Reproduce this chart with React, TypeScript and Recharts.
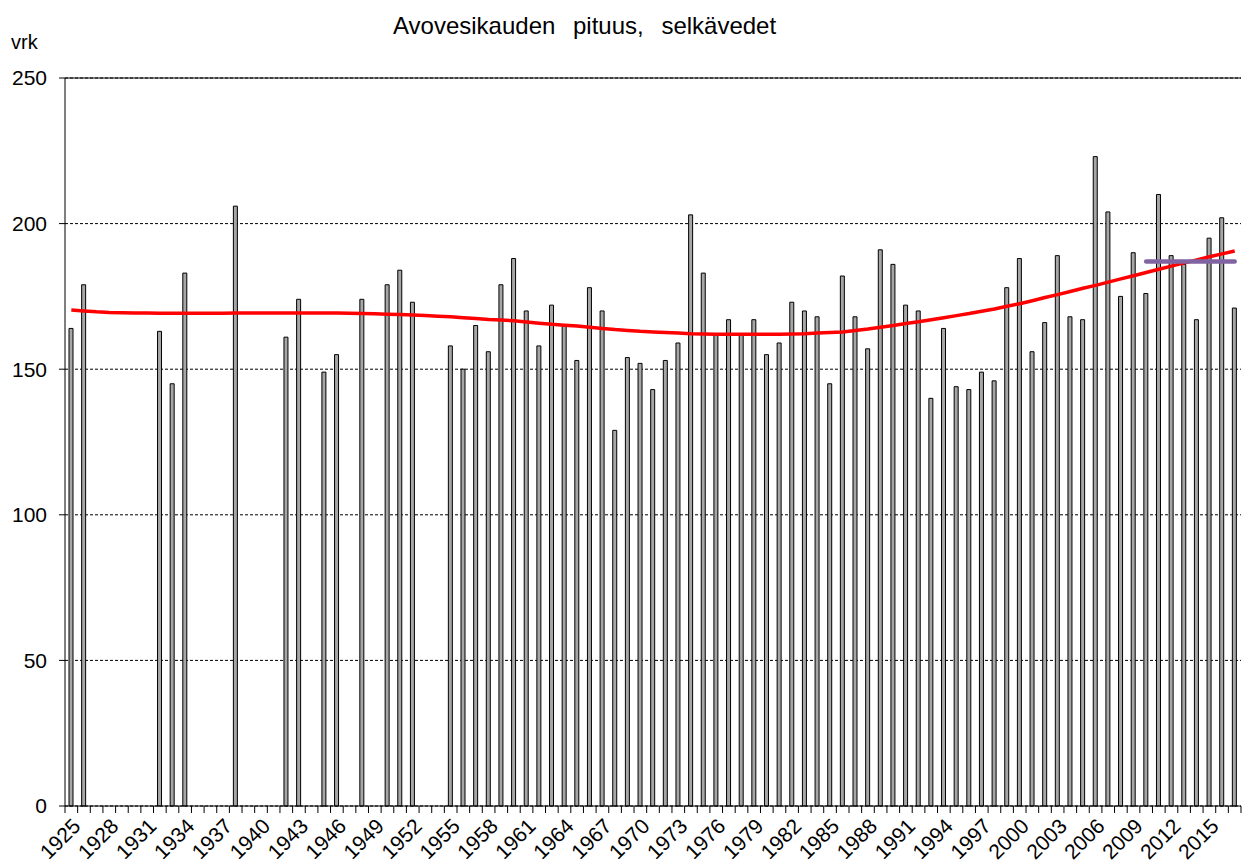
import React from 'react';
import {
  ComposedChart,
  Bar,
  Line,
  XAxis,
  YAxis,
  CartesianGrid,
  ReferenceLine,
} from 'recharts';

// categories: one per year
const years = [
  '1925', '1926', '1927', '1928', '1929', '1930', '1931', '1932', '1933', '1934',
  '1935', '1936', '1937', '1938', '1939', '1940', '1941', '1942', '1943', '1944',
  '1945', '1946', '1947', '1948', '1949', '1950', '1951', '1952', '1953', '1954',
  '1955', '1956', '1957', '1958', '1959', '1960', '1961', '1962', '1963', '1964',
  '1965', '1966', '1967', '1968', '1969', '1970', '1971', '1972', '1973', '1974',
  '1975', '1976', '1977', '1978', '1979', '1980', '1981', '1982', '1983', '1984',
  '1985', '1986', '1987', '1988', '1989', '1990', '1991', '1992', '1993', '1994',
  '1995', '1996', '1997', '1998', '1999', '2000', '2001', '2002', '2003', '2004',
  '2005', '2006', '2007', '2008', '2009', '2010', '2011', '2012', '2013', '2014',
  '2015', '2016', '2017',
];

// open water season length (days), null = no observation
const days = [
  164, 179, null, null, null, null, null, 163, 145, 183,
  null, null, null, 206, null, null, null, 161, 174, null,
  149, 155, null, 174, null, 179, 184, 173, null, null,
  158, 150, 165, 156, 179, 188, 170, 158, 172, 165,
  153, 178, 170, 129, 154, 152, 143, 153, 159, 203,
  183, 162, 167, 162, 167, 155, 159, 173, 170, 168,
  145, 182, 168, 157, 191, 186, 172, 170, 140, 164,
  144, 143, 149, 146, 178, 188, 156, 166, 189, 168,
  167, 223, 204, 175, 190, 176, 210, 189, 186, 167,
  195, 202, 171,
];

// smoothed trend (red)
const trend = [
  170.3, 170.0, 169.7, 169.5, 169.4, 169.3, 169.3, 169.2, 169.2, 169.2,
  169.2, 169.2, 169.2, 169.3, 169.3, 169.3, 169.3, 169.3, 169.3, 169.3,
  169.3, 169.3, 169.2, 169.1, 169.0, 168.9, 168.8, 168.6, 168.4, 168.2,
  168.0, 167.7, 167.4, 167.1, 166.9, 166.6, 166.2, 165.8, 165.4, 165.1,
  164.8, 164.4, 164.0, 163.6, 163.3, 163.0, 162.8, 162.6, 162.4, 162.2,
  162.1, 162.0, 162.0, 162.0, 162.0, 162.0, 162.0, 162.1, 162.2, 162.4,
  162.6, 162.8, 163.3, 163.8, 164.4, 165.0, 165.7, 166.3, 167.0, 167.7,
  168.4, 169.1, 169.9, 170.7, 171.6, 172.5, 173.5, 174.6, 175.6, 176.7,
  177.8, 178.8, 179.9, 181.0, 182.1, 183.2, 184.3, 185.4, 186.5, 187.5,
  188.6, 189.6, 190.6,
];

// mean of 2010-2017 (purple)
const recentMeanYears = ['2010', '2011', '2012', '2013', '2014', '2015', '2016', '2017'];
const recentMean = 187;

const yTicks = [0, 50, 100, 150, 200, 250];
const labelEvery = 3;

const data = years.map((year, i) => ({
  year,
  days: days[i],
  trend: trend[i],
  mean: recentMeanYears.includes(year) ? recentMean : null,
}));

const font = 'Arial, "Liberation Sans", sans-serif';

// tick mark on the border between categories, label on every third year
function YearTick(props: any) {
  const { x, y, payload, index } = props;
  const half = payload && payload.offset ? payload.offset : 0;
  const last = index === years.length - 1;
  return (
    <g>
      <line x1={x - half} x2={x - half} y1={y} y2={y + 7} stroke="#000" />
      {last && <line x1={x + half} x2={x + half} y1={y} y2={y + 7} stroke="#000" />}
      {index % labelEvery === 0 && (
        <text
          x={x}
          y={y + 11}
          dy="0.71em"
          textAnchor="end"
          transform={`rotate(-45, ${x}, ${y + 11})`}
          fill="#000"
          fontSize={21}
          fontFamily={font}
        >
          {payload.value}
        </text>
      )}
    </g>
  );
}

export default function App() {
  return (
    <div style={styles.page}>
      <div style={styles.title}>Avovesikauden pituus, selkävedet</div>
      <div style={styles.unit}>vrk</div>
      <ComposedChart
        width={1243}
        height={863}
        data={data}
        margin={{ top: 78, right: 2, bottom: 0, left: 0 }}
      >
        <CartesianGrid
          vertical={false}
          stroke="#000"
          strokeDasharray="3 2"
        />
        <XAxis
          dataKey="year"
          interval={0}
          height={57}
          stroke="#000"
          tickLine={false}
          tickSize={0}
          tickMargin={0}
          tick={<YearTick />}
        />
        <YAxis
          domain={[0, 250]}
          ticks={yTicks}
          width={65}
          tickSize={6}
          tickMargin={12}
          stroke="#000"
          tick={{ fill: '#000', fontSize: 21, fontFamily: font }}
        />
        <YAxis
          yAxisId="border"
          orientation="right"
          domain={[0, 250]}
          width={0}
          tick={false}
          tickLine={false}
          stroke="#808080"
          strokeWidth={2}
        />
        <ReferenceLine y={250} stroke="#000" strokeWidth={1} />
        <Bar
          dataKey="days"
          barSize={4}
          fill="#a6a6a6"
          stroke="#000"
          strokeWidth={1}
          isAnimationActive={false}
        />
        <Line
          dataKey="trend"
          type="linear"
          stroke="#ff0000"
          strokeWidth={3.5}
          dot={false}
          activeDot={false}
          isAnimationActive={false}
        />
        <Line
          dataKey="mean"
          type="linear"
          stroke="#8064a2"
          strokeWidth={4.5}
          strokeLinecap="round"
          dot={false}
          activeDot={false}
          connectNulls={false}
          isAnimationActive={false}
        />
      </ComposedChart>
    </div>
  );
}

const styles: { [key: string]: React.CSSProperties } = {
  page: {
    position: 'absolute',
    left: 0,
    top: 0,
    width: 1243,
    height: 863,
    background: '#fff',
  },
  title: {
    position: 'absolute',
    left: 393,
    top: 14,
    fontFamily: font,
    fontSize: 24,
    lineHeight: '24px',
    wordSpacing: 11,
    color: '#000',
    whiteSpace: 'nowrap',
  },
  unit: {
    position: 'absolute',
    left: 11,
    top: 32,
    fontFamily: font,
    fontSize: 20,
    lineHeight: '20px',
    color: '#000',
  },
};
